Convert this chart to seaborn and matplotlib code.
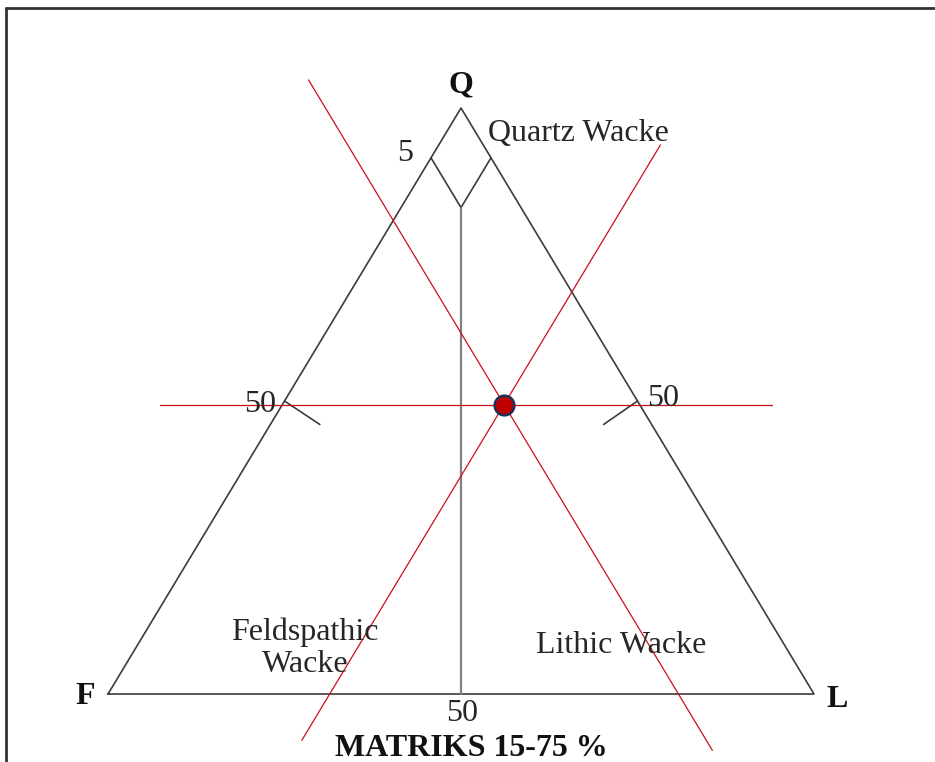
import numpy as np
import pandas as pd
import matplotlib
matplotlib.use("Agg")
import matplotlib.pyplot as plt
from matplotlib.lines import Line2D
import seaborn as sns

# --- sample composition (percent) ---
sample_q = 49.4
sample_f = 19.2
sample_l = 31.4

# Extents of the guide lines through the sample
guide_f_q_range = [104.8, -9.6]    # constant-F line, given as Q values at its ends
guide_l_q_range = [93.7, -7.9]     # constant-L line, given as Q values at its ends
guide_q_x_range = [7.4, 94.0]      # constant-Q line, horizontal extent

# --- field boundaries ---
quartz_field_f = 8.5   # Quartz Wacke boundary lines (F and L limits)
tick_q = 50            # side ticks at 50 %

vertex_labels = ["Q", "F", "L"]
field_labels = ["Quartz Wacke", "Feldspathic\nWacke", "Lithic Wacke"]
tick_labels = ["5", "50", "50", "50"]
title_text = "MATRIKS 15-75 %"


def tern(q, f, l):
    """Ternary (Q, F, L) percent -> cartesian with F at origin, L at x=100, Q at top."""
    total = q + f + l
    q, l = 100 * q / total, 100 * l / total
    return l + q / 2.0, q


sns.set_theme(style="white")
plt.rcParams["font.family"] = ["Liberation Serif", "DejaVu Serif"]

fig = plt.figure(figsize=(9.35, 7.62), dpi=100)
ax = fig.add_axes([0, 0, 1, 1])
ax.set_xlim(-15.30, 117.14)
ax.set_ylim(-11.60, 118.43)
ax.axis("off")

# triangle outline and boundary lines
rows = []
def seg(name, pts):
    for x, y in pts:
        rows.append({"seg": name, "x": x, "y": y})

seg("outline", [tern(0, 100, 0), tern(0, 0, 100), tern(100, 0, 0), tern(0, 100, 0)])
qa = 100 - quartz_field_f
seg("qw_left", [tern(qa, quartz_field_f, 0), tern(100 - 2 * quartz_field_f, quartz_field_f, quartz_field_f)])
seg("qw_right", [tern(qa, 0, quartz_field_f), tern(100 - 2 * quartz_field_f, quartz_field_f, quartz_field_f)])
lx, ly = tern(tick_q, 100 - tick_q, 0)
seg("tick_left", [(lx, ly), (lx + 5.0, ly - 4.0)])
rx, ry = tern(tick_q, 0, 100 - tick_q)
seg("tick_right", [(rx, ry), (rx - 4.8, ry - 4.0)])
frame = pd.DataFrame(rows)
sns.lineplot(data=frame, x="x", y="y", units="seg", estimator=None, sort=False,
             color="#3c3c3c", lw=1.2, ax=ax, legend=False)

# central divide F = L
top_q = 100 - 2 * quartz_field_f
mid = pd.DataFrame({"x": [tern(top_q, (100 - top_q) / 2, (100 - top_q) / 2)[0], 50.0],
                    "y": [top_q, 0.0]})
sns.lineplot(data=mid, x="x", y="y", estimator=None, sort=False,
             color="#808080", lw=1.6, ax=ax, legend=False)

# guide lines through the sample
g = []
for qv in guide_f_q_range:
    g.append({"seg": "f", "x": (100 - sample_f - qv) + qv / 2.0, "y": qv})
for qv in guide_l_q_range:
    g.append({"seg": "l", "x": sample_l + qv / 2.0, "y": qv})
for xv in guide_q_x_range:
    g.append({"seg": "q", "x": xv, "y": sample_q})
guides = pd.DataFrame(g)
sns.lineplot(data=guides, x="x", y="y", units="seg", estimator=None, sort=False,
             color="#c8101a", lw=0.9, ax=ax, legend=False)

# sample point
px, py = tern(sample_q, sample_f, sample_l)
sns.scatterplot(x=[px], y=[py], s=200, color="#c00000", edgecolor="#1f3058",
                linewidth=1.8, ax=ax, zorder=5, legend=False)

txt = dict(color="#262626", fontsize=23)
bold = dict(color="#111111", fontsize=23, fontweight="bold")
ax.text(50.0, 103.9, vertex_labels[0], ha="center", va="center", **bold)
ax.text(-3.3, -0.5, vertex_labels[1], ha="center", va="center", **bold)
ax.text(103.3, -1.0, vertex_labels[2], ha="center", va="center", **bold)

ax.text(53.8, 95.6, field_labels[0], ha="left", va="center", **txt)
ax.text(27.9, 7.8, field_labels[1], ha="center", va="center", linespacing=1.15, **txt)
ax.text(72.7, 8.2, field_labels[2], ha="center", va="center", **txt)

ax.text(42.1, 92.3, tick_labels[0], ha="center", va="center", **txt)
ax.text(21.5, 49.4, tick_labels[1], ha="center", va="center", **txt)
ax.text(78.6, 50.4, tick_labels[2], ha="center", va="center", **txt)
ax.text(50.1, -3.4, tick_labels[3], ha="center", va="center", **txt)
ax.text(51.4, -9.3, title_text, ha="center", va="center", **bold)

# page frame (top and left edges)
fig.add_artist(Line2D([6 / 935, 6 / 935], [0, 1 - 8 / 762], transform=fig.transFigure,
                      color="#333333", lw=2.0))
fig.add_artist(Line2D([6 / 935, 1], [1 - 8 / 762, 1 - 8 / 762], transform=fig.transFigure,
                      color="#333333", lw=2.0))

fig.savefig("out.png", dpi=100, facecolor="white")
